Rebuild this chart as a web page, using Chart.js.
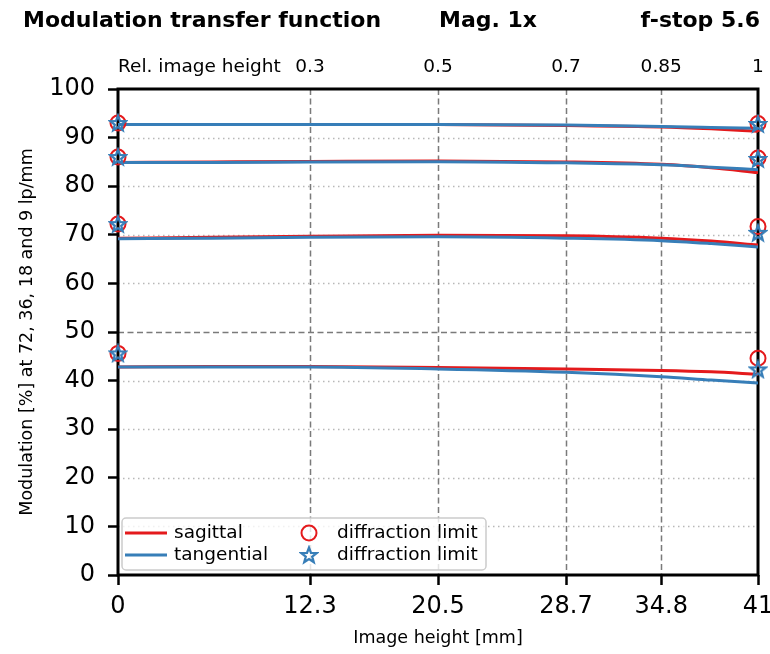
<!DOCTYPE html>
<html>
<head>
<meta charset="utf-8">
<style>
  html, body { margin: 0; padding: 0; background: #ffffff; }
  #wrap { position: relative; width: 770px; height: 654px; }
</style>
<script src="https://cdn.jsdelivr.net/npm/chart.js@4/dist/chart.umd.min.js"></script>
</head>
<body>
<div id="wrap"><canvas id="c" width="770" height="654"></canvas></div>
<script>
// ---------- data ----------
const xPos = [0, 6, 12.3, 20.5, 28.7, 34.8, 38, 41];
const sag9  = [92.7, 92.7, 92.7, 92.7, 92.5, 92.2, 91.8, 91.3];
const tan9  = [92.7, 92.7, 92.7, 92.7, 92.6, 92.3, 92.1, 91.9];
const sag18 = [84.9, 85.0, 85.1, 85.2, 85.0, 84.5, 83.8, 82.8];
const tan18 = [84.9, 84.9, 85.0, 85.05, 84.8, 84.4, 83.9, 83.4];
const sag36 = [69.3, 69.5, 69.7, 69.9, 69.8, 69.3, 68.7, 67.9];
const tan36 = [69.2, 69.3, 69.5, 69.6, 69.3, 68.8, 68.2, 67.5];
const sag72 = [42.8, 42.9, 42.9, 42.7, 42.4, 42.1, 41.8, 41.3];
const tan72 = [42.8, 42.8, 42.8, 42.4, 41.7, 40.8, 40.1, 39.5];

const diffX = [0, 41];
const circleLeft  = [45.6, 72.2, 86.0, 93.0];
const circleRight = [44.6, 71.7, 85.8, 92.9];
const starLeft    = [45.6, 72.2, 86.0, 93.0];
const starRight   = [42.3, 70.4, 85.6, 92.8];

const xTicks = [0, 12.3, 20.5, 28.7, 34.8, 41];
const xGrid = [12.3, 20.5, 28.7, 34.8];
const relTicks = [12.3, 20.5, 28.7, 34.8, 41];
const relLabels = ['0.3', '0.5', '0.7', '0.85', '1'];
const yTicks = [0, 10, 20, 30, 40, 50, 60, 70, 80, 90, 100];

const titleLeft = 'Modulation transfer function';
const titleMid = 'Mag. 1x';
const titleRight = 'f-stop 5.6';
const relTitle = 'Rel. image height';
const xTitle = 'Image height [mm]';
const yTitle = 'Modulation [%] at 72, 36, 18 and 9 lp/mm';

const RED = '#e41a1c';
const BLUE = '#377eb8';
const FONT = "'DejaVu Sans', sans-serif";

// ---------- star point style ----------
function starPath(ctx, cx, cy, R, r) {
  ctx.beginPath();
  for (let i = 0; i < 10; i++) {
    const rad = i % 2 === 0 ? R : r;
    const a = -Math.PI / 2 + i * Math.PI / 5;
    const px = cx + rad * Math.cos(a), py = cy + rad * Math.sin(a);
    if (i === 0) ctx.moveTo(px, py); else ctx.lineTo(px, py);
  }
  ctx.closePath();
}
const starImg = document.createElement('canvas');
starImg.width = 20; starImg.height = 20;
(function () {
  const g = starImg.getContext('2d');
  starPath(g, 10, 10.6, 8, 3.4);
  g.lineWidth = 2.3;
  g.lineJoin = 'miter';
  g.strokeStyle = BLUE;
  g.stroke();
})();

function pts(xs, ys) { return xs.map((x, i) => ({ x: x, y: ys[i] })); }
function diffPts(left, right) {
  const out = [];
  for (let i = 0; i < left.length; i++) {
    out.push({ x: diffX[0], y: left[i] });
    out.push({ x: diffX[1], y: right[i] });
  }
  return out;
}
function lineDs(label, color, ys) {
  return {
    type: 'line', label: label, data: pts(xPos, ys),
    borderColor: color, backgroundColor: color, borderWidth: 3,
    pointRadius: 0, cubicInterpolationMode: 'monotone', fill: false
  };
}

const datasets = [
  { type: 'scatter', label: 'diffraction limit', data: diffPts(starLeft, starRight),
    pointStyle: starImg, pointRadius: 8, borderColor: BLUE, backgroundColor: BLUE, clip: false },
  { type: 'scatter', label: 'diffraction limit', data: diffPts(circleLeft, circleRight),
    pointStyle: 'circle', pointRadius: 7.5, borderWidth: 2, borderColor: RED,
    backgroundColor: 'rgba(0,0,0,0)', clip: false },
  lineDs('tangential', BLUE, tan9),
  lineDs('tangential', BLUE, tan18),
  lineDs('tangential', BLUE, tan36),
  lineDs('tangential', BLUE, tan72),
  lineDs('sagittal', RED, sag9),
  lineDs('sagittal', RED, sag18),
  lineDs('sagittal', RED, sag36),
  lineDs('sagittal', RED, sag72)
];

// ---------- plugins ----------
const backPlugin = {
  id: 'back',
  beforeDatasetsDraw(chart) {
    const ctx = chart.ctx, a = chart.chartArea;
    const xs = chart.scales.x, ys = chart.scales.y;
    ctx.save();
    yTicks.forEach(v => {
      if (v === 0 || v === 100) return;
      const py = Math.round(ys.getPixelForValue(v)) + 0.5;
      ctx.beginPath();
      if (v === 50) { ctx.setLineDash([6, 3.5]); ctx.strokeStyle = '#7a7a7a'; ctx.lineWidth = 1.5; }
      else { ctx.setLineDash([1.5, 3.5]); ctx.strokeStyle = '#b8b8b8'; ctx.lineWidth = 1.5; }
      ctx.moveTo(a.left, py); ctx.lineTo(a.right, py); ctx.stroke();
    });
    xGrid.forEach(v => {
      const px = Math.round(xs.getPixelForValue(v)) + 0.5;
      ctx.beginPath();
      ctx.setLineDash([6, 3.5]); ctx.strokeStyle = '#7a7a7a'; ctx.lineWidth = 1.5;
      ctx.moveTo(px, a.top); ctx.lineTo(px, a.bottom); ctx.stroke();
    });
    ctx.setLineDash([]);
    ctx.strokeStyle = '#000'; ctx.lineWidth = 3;
    ctx.strokeRect(a.left, a.top, a.right - a.left, a.bottom - a.top);
    ctx.restore();
  },
  afterDraw(chart) {
    const ctx = chart.ctx, a = chart.chartArea;
    ctx.save();
    ctx.fillStyle = '#000';
    ctx.textBaseline = 'middle';
    ctx.font = "bold 22px " + FONT;
    ctx.textAlign = 'left'; ctx.fillText(titleLeft, 23, 21);
    ctx.textAlign = 'center'; ctx.fillText(titleMid, 488, 21);
    ctx.textAlign = 'right'; ctx.fillText(titleRight, 760, 21);
    ctx.font = "18.5px " + FONT;
    ctx.textAlign = 'left'; ctx.fillText(relTitle, a.left, 67);

    const bx = 122, by = 518, bw = 364, bh = 52;
    ctx.beginPath();
    if (ctx.roundRect) ctx.roundRect(bx, by, bw, bh, 4); else ctx.rect(bx, by, bw, bh);
    ctx.fillStyle = 'rgba(255,255,255,0.8)'; ctx.fill();
    ctx.strokeStyle = '#cccccc'; ctx.lineWidth = 1.5; ctx.stroke();
    const rows = [533, 555];
    const items = [
      { label: datasets[6].label, color: RED, kind: 'line' },
      { label: datasets[2].label, color: BLUE, kind: 'line' },
      { label: datasets[1].label, color: RED, kind: 'circle' },
      { label: datasets[0].label, color: BLUE, kind: 'star' }
    ];
    ctx.font = "18.5px " + FONT;
    ctx.textAlign = 'left'; ctx.textBaseline = 'middle';
    items.forEach((it, i) => {
      const y = rows[i % 2];
      if (it.kind === 'line') {
        ctx.beginPath(); ctx.strokeStyle = it.color; ctx.lineWidth = 3;
        ctx.moveTo(125, y); ctx.lineTo(167, y); ctx.stroke();
        ctx.fillStyle = '#000'; ctx.fillText(it.label, 174, y);
      } else {
        if (it.kind === 'circle') {
          ctx.beginPath(); ctx.strokeStyle = it.color; ctx.lineWidth = 2;
          ctx.arc(309, y, 7.5, 0, Math.PI * 2); ctx.stroke();
        } else {
          ctx.drawImage(starImg, 299, y - 10);
        }
        ctx.fillStyle = '#000'; ctx.fillText(it.label, 337, y);
      }
    });
    ctx.restore();
  }
};

new Chart(document.getElementById('c'), {
  data: { datasets: datasets },
  plugins: [backPlugin],
  options: {
    responsive: false,
    animation: false,
    devicePixelRatio: 1,
    layout: { padding: { left: 0, right: 12, top: 0, bottom: 0 } },
    plugins: { legend: { display: false }, tooltip: { enabled: false }, title: { display: false } },
    scales: {
      x: {
        type: 'linear', position: 'bottom', min: 0, max: 41,
        afterBuildTicks: s => { s.ticks = xTicks.map(v => ({ value: v })); },
        afterFit: s => { s.height = 79; s.paddingLeft = 0; s.paddingRight = 0; },
        ticks: { autoSkip: false, maxRotation: 0, padding: 7, color: '#000',
                 font: { family: FONT, size: 24 }, callback: v => String(v) },
        grid: { drawOnChartArea: false, drawTicks: true, tickLength: 10, tickWidth: 2.5, tickColor: '#000' },
        border: { display: false },
        title: { display: true, text: xTitle, color: '#000', font: { family: FONT, size: 17.5 },
                 padding: { top: 0, bottom: 5 } }
      },
      x2: {
        type: 'linear', position: 'top', min: 0, max: 41,
        afterBuildTicks: s => { s.ticks = relTicks.map(v => ({ value: v })); },
        afterFit: s => { s.height = 89; s.paddingLeft = 0; s.paddingRight = 0; },
        ticks: { autoSkip: false, maxRotation: 0, padding: 11, color: '#000',
                 font: { family: FONT, size: 18.5 },
                 callback: v => { const i = relTicks.indexOf(v); return i >= 0 ? relLabels[i] : ''; } },
        grid: { display: false, drawTicks: false },
        border: { display: false }
      },
      y: {
        type: 'linear', position: 'left', min: 0, max: 100,
        afterBuildTicks: s => { s.ticks = yTicks.map(v => ({ value: v })); },
        afterFit: s => { s.width = 118; s.paddingTop = 0; s.paddingBottom = 0; },
        ticks: { autoSkip: false, padding: 13, color: '#000', font: { family: FONT, size: 24 } },
        grid: { drawOnChartArea: false, drawTicks: true, tickLength: 10, tickWidth: 2.5, tickColor: '#000' },
        border: { display: false },
        title: { display: true, text: yTitle, color: '#000', font: { family: FONT, size: 17.5 },
                 padding: { top: 17, bottom: 0 } }
      }
    }
  }
});
</script>
</body>
</html>
